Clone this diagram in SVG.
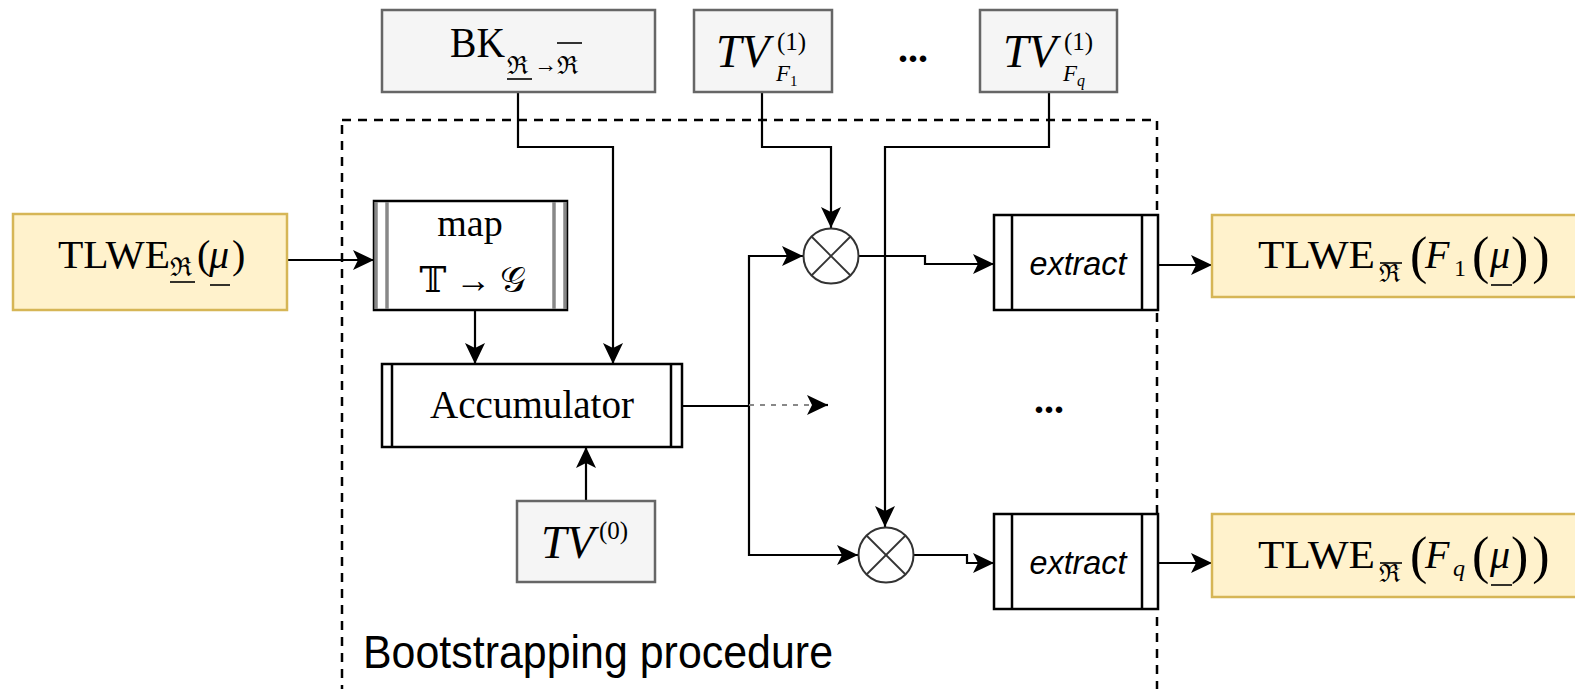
<svg xmlns="http://www.w3.org/2000/svg" width="1575" height="689" viewBox="0 0 1575 689">
<style>
.gbox{fill:#f5f5f5;stroke:#666666;stroke-width:2.5}
.ybox{fill:#fff2cc;stroke:#d6b656;stroke-width:2.5}
.proc{fill:#ffffff;stroke:#000000;stroke-width:2.5}
.pl{stroke:#000000;stroke-width:2.5}
.gl{stroke:#888888;stroke-width:3.5}
.m{font-family:"Liberation Serif","DejaVu Serif",serif;fill:#000}
.s{font-family:"Liberation Sans",Arial,sans-serif;fill:#000}
.i{font-style:italic}
.c{fill:none;stroke:#000;stroke-width:2.2;marker-end:url(#arr)}
.d{fill:none;stroke:#000;stroke-width:2.2}
.dec{stroke:#000;stroke-width:1.6}
</style>
<defs>
<marker id="arr" markerUnits="userSpaceOnUse" markerWidth="24" markerHeight="22" refX="21" refY="10" orient="auto" viewBox="0 0 24 22">
<path d="M0,0 L21,10 L0,20 L5,10 Z" fill="#000"/>
</marker>
</defs>
<rect width="1575" height="689" fill="#ffffff"/>

<g id="bootstrap-frame">
<rect x="342" y="120" width="815" height="600" fill="none" stroke="#000" stroke-width="2.5" stroke-dasharray="9,7"/>
<text class="s" x="363" y="668" font-size="46" textLength="470" lengthAdjust="spacingAndGlyphs">Bootstrapping procedure</text>
</g>

<g id="connectors">
<path class="c" d="M287,260 L374,260"/>
<path class="c" d="M475,310 L475,364"/>
<path class="c" d="M518,92 L518,147 L613,147 L613,364"/>
<path class="c" d="M586,501 L586,447"/>
<path class="d" d="M682,406 L749,406"/>
<path class="c" d="M749,406 L749,256 L803,256"/>
<path class="c" d="M749,406 L749,555 L858,555"/>
<path fill="none" stroke="#888" stroke-width="2" stroke-dasharray="5,6" d="M749,405 L812,405"/>
<path class="c" d="M812,405 L828,405"/>
<path class="c" d="M762,92 L762,147 L831,147 L831,228"/>
<path class="c" d="M1049,92 L1049,147 L885,147 L885,527"/>
<path class="c" d="M859,256 L925,256 L925,264 L994,264"/>
<path class="c" d="M914,555 L967,555 L967,563 L994,563"/>
<path class="c" d="M1158,265 L1212,265"/>
<path class="c" d="M1158,563 L1212,563"/>
</g>

<g id="bk">
<rect class="gbox" x="382" y="10" width="273" height="82"/>
<text class="m" x="450" y="57" font-size="42" textLength="55" lengthAdjust="spacingAndGlyphs">BK</text>
<text class="m" x="507" y="74" font-size="25">ℜ</text>
<line class="dec" x1="507" y1="79" x2="532" y2="79"/>
<text class="m" x="534" y="72" font-size="23">→</text>
<text class="m" x="557" y="74" font-size="25">ℜ</text>
<line class="dec" x1="557" y1="43" x2="582" y2="43"/>
</g>

<g id="tvf1">
<rect class="gbox" x="694" y="10" width="138" height="82"/>
<text class="m i" x="716" y="67" font-size="46">TV</text>
<text class="m" x="777" y="50" font-size="25">(1)</text>
<text class="m i" x="776" y="81" font-size="23">F</text>
<text class="m" x="790" y="86" font-size="15">1</text>
</g>

<g id="ellipsis-top">
<text class="m" x="898" y="62" font-size="40" font-weight="bold">...</text>
</g>

<g id="tvfq">
<rect class="gbox" x="980" y="10" width="137" height="82"/>
<text class="m i" x="1003" y="67" font-size="46">TV</text>
<text class="m" x="1064" y="50" font-size="25">(1)</text>
<text class="m i" x="1063" y="81" font-size="23">F</text>
<text class="m i" x="1077" y="86" font-size="16">q</text>
</g>

<g id="input">
<rect class="ybox" x="13" y="214" width="274" height="96"/>
<text class="m" x="58" y="268" font-size="40" textLength="112" lengthAdjust="spacingAndGlyphs">TLWE</text>
<text class="m" x="170" y="276" font-size="26">ℜ</text>
<line class="dec" x1="170" y1="282" x2="195" y2="282"/>
<text class="m" x="197" y="268" font-size="40">(</text>
<text class="m i" x="209" y="268" font-size="40">μ</text>
<line class="dec" x1="210" y1="285" x2="230" y2="285"/>
<text class="m" x="232" y="268" font-size="40">)</text>
</g>

<g id="map">
<rect class="proc" x="374" y="201" width="193" height="109"/>
<line class="gl" x1="376" y1="202" x2="376" y2="309"/>
<line class="gl" x1="387" y1="202" x2="387" y2="309"/>
<line class="gl" x1="554" y1="202" x2="554" y2="309"/>
<line class="gl" x1="565" y1="202" x2="565" y2="309"/>
<text class="m" x="470" y="236" font-size="38" text-anchor="middle">map</text>
<text class="m" x="473" y="292" font-size="36" text-anchor="middle">𝕋 → 𝒢</text>
</g>

<g id="accumulator">
<rect class="proc" x="382" y="364" width="300" height="83"/>
<line class="pl" x1="392" y1="364" x2="392" y2="447"/>
<line class="pl" x1="671" y1="364" x2="671" y2="447"/>
<text class="m" x="532" y="418" font-size="40" text-anchor="middle" textLength="204" lengthAdjust="spacingAndGlyphs">Accumulator</text>
</g>

<g id="tv0">
<rect class="gbox" x="517" y="501" width="138" height="81"/>
<text class="m i" x="541" y="558" font-size="46">TV</text>
<text class="m" x="599" y="539" font-size="25">(0)</text>
</g>

<g id="mult1">
<circle cx="831" cy="256" r="27.5" fill="#fff" stroke="#333" stroke-width="2"/>
<line x1="811.5" y1="236.5" x2="850.5" y2="275.5" stroke="#333" stroke-width="1.8"/>
<line x1="850.5" y1="236.5" x2="811.5" y2="275.5" stroke="#333" stroke-width="1.8"/>
</g>

<g id="mult2">
<circle cx="886" cy="555" r="27.5" fill="#fff" stroke="#333" stroke-width="2"/>
<line x1="866.5" y1="535.5" x2="905.5" y2="574.5" stroke="#333" stroke-width="1.8"/>
<line x1="905.5" y1="535.5" x2="866.5" y2="574.5" stroke="#333" stroke-width="1.8"/>
</g>

<g id="extract1">
<rect class="proc" x="994" y="215" width="164" height="95"/>
<line class="pl" x1="1012" y1="215" x2="1012" y2="310"/>
<line class="pl" x1="1142" y1="215" x2="1142" y2="310"/>
<text class="s i" x="1078" y="275" font-size="34" text-anchor="middle" textLength="97" lengthAdjust="spacingAndGlyphs">extract</text>
</g>

<g id="ellipsis-mid">
<text class="m" x="1034" y="413" font-size="40" font-weight="bold">...</text>
</g>

<g id="extract2">
<rect class="proc" x="994" y="514" width="164" height="95"/>
<line class="pl" x1="1012" y1="514" x2="1012" y2="609"/>
<line class="pl" x1="1142" y1="514" x2="1142" y2="609"/>
<text class="s i" x="1078" y="574" font-size="34" text-anchor="middle" textLength="97" lengthAdjust="spacingAndGlyphs">extract</text>
</g>

<g id="output1">
<rect class="ybox" x="1212" y="215" width="380" height="82"/>
<text class="m" x="1258" y="268" font-size="41" textLength="117" lengthAdjust="spacingAndGlyphs">TLWE</text>
<text class="m" x="1379" y="282" font-size="25">ℜ</text>
<line class="dec" x1="1380" y1="263" x2="1402" y2="263"/>
<text class="m" x="1410" y="273" font-size="52">(</text>
<text class="m i" x="1425" y="268" font-size="40">F</text>
<text class="m" x="1454" y="276" font-size="24">1</text>
<text class="m" x="1472" y="273" font-size="52">(</text>
<text class="m i" x="1490" y="268" font-size="40">μ</text>
<line class="dec" x1="1491" y1="285" x2="1512" y2="285"/>
<text class="m" x="1511" y="273" font-size="52" letter-spacing="4">))</text>
</g>

<g id="outputq">
<rect class="ybox" x="1212" y="514" width="380" height="83"/>
<text class="m" x="1258" y="568" font-size="41" textLength="117" lengthAdjust="spacingAndGlyphs">TLWE</text>
<text class="m" x="1379" y="582" font-size="25">ℜ</text>
<line class="dec" x1="1380" y1="563" x2="1402" y2="563"/>
<text class="m" x="1410" y="573" font-size="52">(</text>
<text class="m i" x="1425" y="568" font-size="40">F</text>
<text class="m i" x="1453" y="576" font-size="24">q</text>
<text class="m" x="1472" y="573" font-size="52">(</text>
<text class="m i" x="1490" y="568" font-size="40">μ</text>
<line class="dec" x1="1491" y1="585" x2="1512" y2="585"/>
<text class="m" x="1511" y="573" font-size="52" letter-spacing="4">))</text>
</g>
</svg>
